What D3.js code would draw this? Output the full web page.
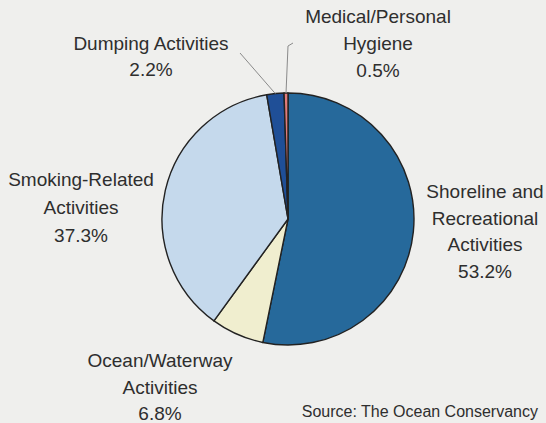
<!DOCTYPE html>
<html>
<head>
<meta charset="utf-8">
<script src="https://cdn.jsdelivr.net/npm/d3@7"></script>
<style>
  html, body { margin: 0; padding: 0; background: #efefed; }
  svg { display: block; }
  text { font-family: "Liberation Sans", Arial, Helvetica, sans-serif; fill: #2e2e2e; }
</style>
</head>
<body>
<svg id="chart"></svg>
<script>
// debris sources, clockwise from 12 o'clock
const categories = ["Shoreline and Recreational Activities", "Ocean/Waterway Activities",
    "Smoking-Related Activities", "Dumping Activities", "Medical/Personal Hygiene"];
const values = [53.2, 6.8, 37.3, 2.2, 0.5];
const labelLines = [
    ["Shoreline and", "Recreational", "Activities", "53.2%"],
    ["Ocean/Waterway", "Activities", "6.8%"],
    ["Smoking-Related", "Activities", "37.3%"],
    ["Dumping Activities", "2.2%"],
    ["Medical/Personal", "Hygiene", "0.5%"]
];
const colors = ["#26699b", "#f0eecf", "#c5d9ec", "#1f4f97", "#e27c7c"];

const width = 546, height = 423;
const cx = 288, cy = 219, radius = 126;

const svg = d3.select("#chart")
    .attr("width", width)
    .attr("height", height);

const g = svg.append("g")
    .attr("transform", "translate(" + cx + "," + cy + ")");

const pie = d3.pie().sort(null).value(d => d);
const arcs = pie(values);
const arc = d3.arc().innerRadius(0).outerRadius(radius);

g.selectAll("path.slice")
    .data(arcs)
    .enter().append("path")
    .attr("class", "slice")
    .attr("d", arc)
    .attr("fill", (d, i) => colors[i])
    .attr("stroke", "#222")
    .attr("stroke-width", 1.4)
    .attr("stroke-linejoin", "round");

// leader lines for the two thin slices (label anchor points in page coords)
const leaders = {3: [[240, 53]], 4: [[288, 46], [293, 43]]};
Object.keys(leaders).forEach(k => {
    const a = arcs[k];
    const mid = (a.startAngle + a.endAngle) / 2;
    const p = d3.pointRadial(mid, radius);
    const pts = [[p[0] + cx, p[1] + cy]].concat(leaders[k]);
    svg.append("path")
        .attr("d", d3.line()(pts))
        .attr("fill", "none")
        .attr("stroke", "#8a8a8a")
        .attr("stroke-width", 1);
});

// label blocks: center x, first baseline, line step
const labelPos = [
    {x: 485, y: 198, step: 26.5},
    {x: 160, y: 367, step: 26.5},
    {x: 81, y: 186, step: 28},
    {x: 151, y: 50, step: 26},
    {x: 378, y: 23, step: 27}
];

labelLines.forEach((lines, i) => {
    const t = svg.append("text")
        .attr("text-anchor", "middle")
        .attr("font-size", "19px");
    lines.forEach((s, j) => {
        t.append("tspan")
            .attr("x", labelPos[i].x)
            .attr("y", labelPos[i].y + j * labelPos[i].step)
            .text(s);
    });
});

svg.append("text")
    .attr("x", 538)
    .attr("y", 417)
    .attr("text-anchor", "end")
    .attr("font-size", "16px")
    .text("Source: The Ocean Conservancy");
</script>
</body>
</html>
